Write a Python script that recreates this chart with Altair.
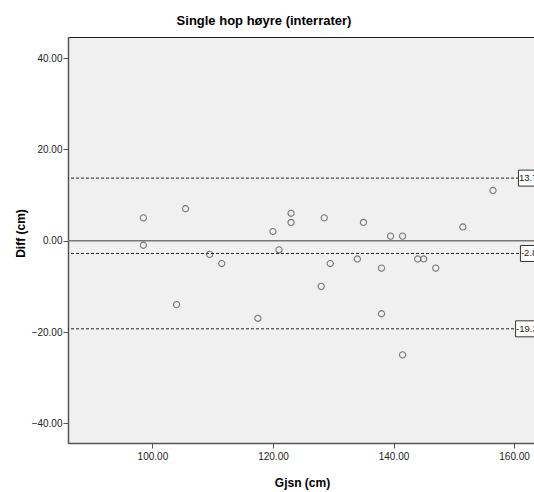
import altair as alt
import pandas as pd

# Bland-Altman data: mean (x) and difference (y)
gjsn = [98.5, 98.5, 105.5, 109.5, 111.5, 104.0, 117.5, 120.0, 121.0, 123.0, 123.0,
        128.5, 129.5, 128.0, 134.0, 135.0, 138.0, 138.0, 139.5, 141.5, 141.5,
        144.0, 145.0, 147.0, 151.5, 156.5]
diff = [5, -1, 7, -3, -5, -14, -17, 2, -2, 6, 4,
        5, -5, -10, -4, 4, -6, -16, 1, 1, -25,
        -4, -4, -6, 3, 11]

ref_values = [13.7, -2.8, -19.3]
ref_labels = ["13.7", "-2.8", "-19.3"]
label_left = [160.72, 161.05, 160.25]

pts = pd.DataFrame({"Gjsn": gjsn, "Diff": diff})
refs = pd.DataFrame({"v": ref_values, "lab": ref_labels, "left": label_left})
refs["top"] = refs["v"] + 1.75
refs["bot"] = refs["v"] - 1.75
refs["right"] = 175.0

FONT = "Liberation Sans"
xs = alt.Scale(domain=[86.0, 163.3], nice=False, zero=False)
ys = alt.Scale(domain=[-44.3, 44.6], nice=False, zero=False)

x_axis = alt.Axis(values=[100, 120, 140, 160], format=".2f", grid=False,
                  title="Gjsn (cm)", titleFont=FONT, titleFontSize=12, titleFontWeight="bold",
                  titleColor="#000", titleX=234, titleY=39, titleBaseline="middle",
                  labelFont=FONT, labelFontSize=10, labelColor="#222", labelPadding=3,
                  tickSize=5, tickColor="#555", domainColor="#555", domainWidth=1.5)
y_axis = alt.Axis(values=[-40, -20, 0, 20, 40], format=".2f", grid=False,
                  title="Diff (cm)", titleFont=FONT, titleFontSize=12, titleFontWeight="bold",
                  titleColor="#000", titleX=-48, titleY=196, titleAngle=270,
                  titleAlign="center", titleBaseline="middle",
                  labelFont=FONT, labelFontSize=10, labelColor="#222", labelPadding=1,
                  tickSize=5, tickColor="#555", domainColor="#555", domainWidth=1.5)

points = alt.Chart(pts).mark_point(shape="circle", filled=False, size=38,
                                   stroke="#444", strokeWidth=1.1).encode(
    x=alt.X("Gjsn:Q", scale=xs, axis=x_axis),
    y=alt.Y("Diff:Q", scale=ys, axis=y_axis),
)

zero_line = alt.Chart(pd.DataFrame({"v": [0]})).mark_rule(color="#777", strokeWidth=1.5).encode(
    y=alt.Y("v:Q", scale=ys)
)

dashed = alt.Chart(refs).mark_rule(color="#222", strokeWidth=1, strokeDash=[3, 2]).encode(
    y=alt.Y("v:Q", scale=ys)
)

boxes = alt.Chart(refs).mark_rect(fill="white", stroke="#333", strokeWidth=1).encode(
    x=alt.X("left:Q", scale=xs), x2="right:Q",
    y=alt.Y("top:Q", scale=ys), y2="bot:Q",
)

texts = alt.Chart(refs).mark_text(align="left", baseline="middle", font=FONT,
                                  fontSize=9.5, color="#222", dx=0.5).encode(
    x=alt.X("left:Q", scale=xs), y=alt.Y("v:Q", scale=ys), text="lab:N"
)

chart = alt.layer(zero_line, dashed, boxes, texts, points).properties(
    width=466, height=406,
    background="white",
    autosize=alt.AutoSizeParams(type="none"),
    padding={"left": 68, "top": 37, "right": 0, "bottom": 49},
    title=alt.TitleParams("Single hop høyre (interrater)", font=FONT, fontSize=13,
                          fontWeight="bold", color="#000", anchor="middle", dx=-37,
                          offset=9),
).configure_view(fill="#F0F0F0", stroke="#222", strokeWidth=1)

chart.save("out.html", embed_options={"renderer": "svg", "actions": False})
